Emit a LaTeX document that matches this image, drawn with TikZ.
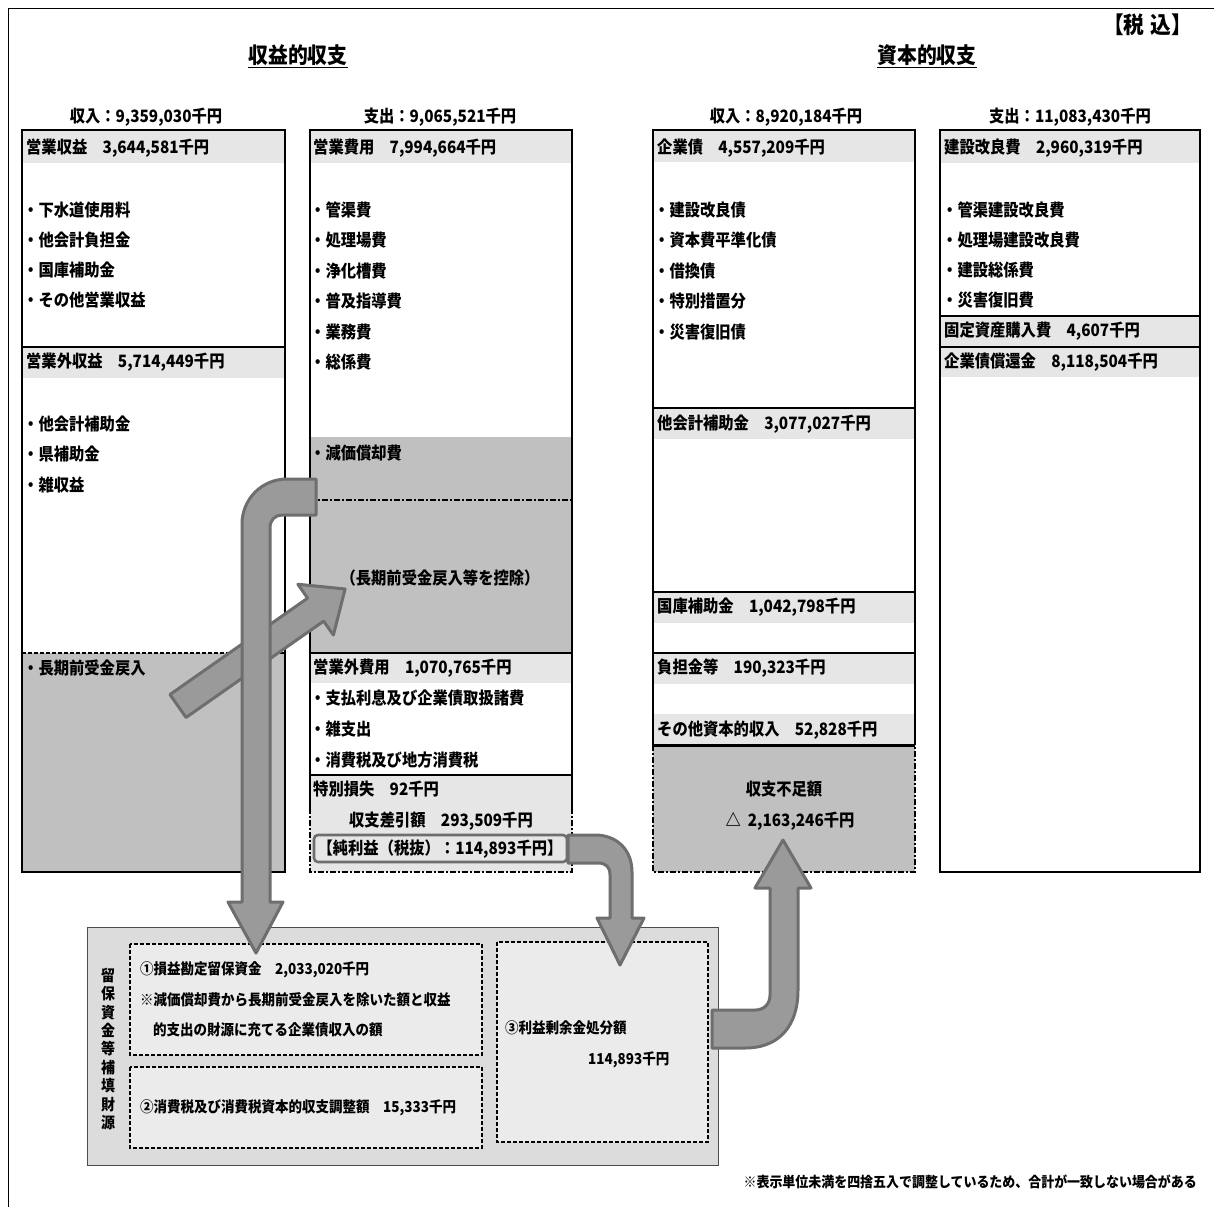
\documentclass[tikz,border=0pt]{standalone}
\usepackage{fontspec}
\setmainfont{Noto Sans CJK JP}[FakeStretch=0.9]
\usepackage{tikz}

\definecolor{bandgray}{HTML}{E6E6E6}
\definecolor{shadegray}{HTML}{C0C0C0}
\definecolor{boxgray}{HTML}{DCDCDC}
\definecolor{innergray}{HTML}{EBEBEB}
\definecolor{arrowfill}{HTML}{9A9A9A}
\definecolor{arrowedge}{HTML}{6E6E6E}

\tikzset{
  txt/.style={anchor=west,inner sep=0pt,font=\fontsize{17}{19}\selectfont\bfseries},
  ctxt/.style={inner sep=0pt,font=\fontsize{17}{19}\selectfont\bfseries},
  stxt/.style={anchor=west,inner sep=0pt,font=\fontsize{15}{17}\selectfont\bfseries},
  ttl/.style={inner sep=0pt,font=\fontsize{22}{26}\selectfont\bfseries},
  colframe/.style={line width=2.4pt},
  sepline/.style={line width=1.8pt},
  thinline/.style={line width=1.2pt},
  dashdot/.style={line width=1.4pt,dash pattern=on 6pt off 2pt on 2pt off 2pt},
  dbox/.style={fill=innergray,draw,line width=1.6pt,dash pattern=on 4pt off 2pt},
  bigarrow/.style={fill=arrowfill,draw=arrowedge,line width=3pt,line join=round}
}

\begin{document}
\begin{tikzpicture}[x=1pt,y=-1pt]
  \useasboundingbox (0,0) rectangle (1214,1207);
  \draw[line width=0.8pt] (8,1207) -- (8,8) -- (1214,8);

  % titles
  \node[ttl] (ttl-inc) at (298,55) {収益的収支};
  \draw[line width=1.4pt] ([yshift=-2pt]ttl-inc.south west) -- ([yshift=-2pt]ttl-inc.south east);
  \node[ttl] (ttl-cap) at (927,55) {資本的収支};
  \draw[line width=1.4pt] ([yshift=-2pt]ttl-cap.south west) -- ([yshift=-2pt]ttl-cap.south east);
  \node[inner sep=0pt,anchor=east,font=\fontsize{23}{26}\selectfont\bfseries] (tax) at (1192,25) {【税\hspace{6pt}込】};

  \node[ctxt] (hd1) at (146,117) {収入：9,359,030千円};
  \node[ctxt] (hd2) at (440,117) {支出：9,065,521千円};
  \node[ctxt] (hd3) at (786,117) {収入：8,920,184千円};
  \node[ctxt] (hd4) at (1070,117) {支出：11,083,430千円};

  % column 1
  \fill[bandgray] (22,131) rectangle (285,163);
  \fill[bandgray] (22,347) rectangle (285,378);
  \fill[shadegray] (22,653) rectangle (285,872);
  \draw[line width=1.2pt,dash pattern=on 4pt off 2pt] (22,653) -- (285,653);
  \draw[sepline] (22,347) -- (285,347);
  \draw[colframe] (22,130) rectangle (285,872);
  \node[txt] (a-hd) at (26,148) {営業収益　3,644,581千円};
  \foreach \t [count=\i] in {下水道使用料,他会計負担金,国庫補助金,その他営業収益}
    \node[txt] (a-\i) at (23,180+30*\i) {・\t};
  \node[txt] (b-hd) at (26,362) {営業外収益　5,714,449千円};
  \foreach \t [count=\i] in {他会計補助金,県補助金,雑収益}
    \node[txt] (b-\i) at (23,393.5+30.5*\i) {・\t};
  \node[txt] (c-1) at (23,668) {・長期前受金戻入};

  % column 2
  \fill[bandgray] (310,131) rectangle (572,163);
  \fill[shadegray] (310,437) rectangle (572,653);
  \fill[bandgray] (310,653) rectangle (572,683);
  \fill[bandgray] (310,775) rectangle (572,872);
  \draw[dashdot] (310,500) -- (572,500);
  \draw[thinline] (310,653) -- (572,653);
  \draw[sepline] (310,775) -- (572,775);
  \draw[colframe] (310,808) -- (310,130) -- (572,130) -- (572,808);
  \draw[dashdot] (310,808) -- (310,872) -- (572,872) -- (572,808);
  \node[txt] (d-hd) at (313,148) {営業費用　7,994,664千円};
  \foreach \t [count=\i] in {管渠費,処理場費,浄化槽費,普及指導費,業務費,総係費}
    \node[txt] (d-\i) at (310,179.6+30.4*\i) {・\t};
  \node[txt] (e-1) at (310,453) {・減価償却費};
  \node[ctxt] (e-2) at (440,578) {（長期前受金戻入等を控除）};
  \node[txt] (f-hd) at (313,668) {営業外費用　1,070,765千円};
  \foreach \t [count=\i] in {支払利息及び企業債取扱諸費,雑支出,消費税及び地方消費税}
    \node[txt] (f-\i) at (310,667.5+30.8*\i) {・\t};
  \node[txt] (g-1) at (313,789) {特別損失　92千円};
  \node[ctxt] (g-2) at (441,821) {収支差引額　293,509千円};
  \draw[draw=arrowedge,fill=bandgray,line width=2.6pt,rounded corners=4pt] (314,835) rectangle (567,862);
  \node[ctxt] (g-3) at (440,849) {【純利益（税抜）：114,893千円】};

  % column 3
  \foreach \y in {131,408,592,653,714}
    \fill[bandgray] (653,\y) rectangle (915,\y+31);
  \fill[shadegray] (653,745) rectangle (915,872);
  \draw[dashdot] (653,745) -- (653,872) -- (915,872) -- (915,745);
  \foreach \y in {408,592,653}
    \draw[thinline] (653,\y) -- (915,\y);
  \draw[colframe] (653,745) -- (653,130) -- (915,130) -- (915,745);
  \draw[line width=3pt] (653,745) -- (915,745);
  \node[txt] (h-hd) at (657,148) {企業債　4,557,209千円};
  \foreach \t [count=\i] in {建設改良債,資本費平準化債,借換債,特別措置分,災害復旧債}
    \node[txt] (h-\i) at (654,179.6+30.4*\i) {・\t};
  \node[txt] (i-hd) at (657,424) {他会計補助金　3,077,027千円};
  \node[txt] (j-hd) at (657,607) {国庫補助金　1,042,798千円};
  \node[txt] (k-hd) at (657,668) {負担金等　190,323千円};
  \node[txt] (l-hd) at (657,730) {その他資本的収入　52,828千円};
  \node[ctxt] (m-1) at (784,789) {収支不足額};
  \node[ctxt] (m-2) at (790,821) {△\hspace{7pt}2,163,246千円};

  % column 4
  \fill[bandgray] (940,131) rectangle (1200,163);
  \fill[bandgray] (940,316) rectangle (1200,346);
  \fill[bandgray] (940,347) rectangle (1200,377);
  \draw[sepline] (940,316) -- (1200,316);
  \draw[sepline] (940,347) -- (1200,347);
  \draw[colframe] (940,130) rectangle (1200,872);
  \node[txt] (n-hd) at (944,148) {建設改良費　2,960,319千円};
  \foreach \t [count=\i] in {管渠建設改良費,処理場建設改良費,建設総係費,災害復旧費}
    \node[txt] (n-\i) at (942,180+30*\i) {・\t};
  \node[txt] (o-hd) at (944,331) {固定資産購入費　4,607千円};
  \node[txt] (p-hd) at (944,362) {企業債償還金　8,118,504千円};

  % reserve funds
  \draw[fill=boxgray,draw=black!70,line width=1pt] (87,927) rectangle (718,1165);
  \node[inner sep=0pt,align=center,font=\fontsize{15.5}{18.4}\selectfont\bfseries] (rsv) at (108,1049)
    {留\\保\\資\\金\\等\\補\\填\\財\\源};
  \draw[dbox] (130,944) rectangle (482,1055);
  \draw[dbox] (130,1067) rectangle (482,1148);
  \draw[dbox] (497,942) rectangle (708,1142);
  \node[stxt] (q-1) at (140,970) {①損益勘定留保資金　2,033,020千円};
  \node[stxt] (q-2) at (140,1000) {※減価償却費から長期前受金戻入を除いた額と収益};
  \node[stxt] (q-3) at (153,1030) {的支出の財源に充てる企業債収入の額};
  \node[stxt] (r-1) at (140,1108) {②消費税及び消費税資本的収支調整額　15,333千円};
  \node[stxt] (s-1) at (505,1028) {③利益剰余金処分額};
  \node[stxt] (s-2) at (588,1060) {114,893千円};

  \node[inner sep=0pt,anchor=east,font=\fontsize{14.4}{16}\selectfont\bfseries] (note) at (1197,1182)
    {※表示単位未満を四捨五入で調整しているため、合計が一致しない場合がある};

  % arrows
  \begin{scope}[shift={(178,706)},rotate=35]
    \draw[bigarrow] (0,-14) -- (168,-14) -- (168,-31) -- (204,0) -- (168,31) -- (168,14) -- (0,14) -- cycle;
  \end{scope}
  \draw[bigarrow] (316,479) -- (287,479) .. controls (262,479) and (242,499) .. (242,524)
    -- (242,902) -- (228,902) -- (256,953) -- (283,902) -- (270,902) -- (270,528)
    .. controls (270,520) and (275,515) .. (282,515) -- (316,515) -- cycle;
  \draw[bigarrow] (568,835) -- (595,835) .. controls (617,835) and (632,850) .. (632,872)
    -- (632,918) -- (644,918) -- (620,965) -- (597,918) -- (610,918) -- (610,875)
    .. controls (610,867) and (606,863) .. (598,863) -- (568,863) -- cycle;
  \draw[bigarrow] (712,1010) -- (755,1010) .. controls (764,1010) and (770,1004) .. (770,995)
    -- (770,888) -- (755,888) -- (783,840) -- (811,888) -- (798,888) -- (798,990)
    .. controls (798,1025) and (780,1048) .. (745,1048) -- (712,1048) -- cycle;
\end{tikzpicture}
\end{document}
